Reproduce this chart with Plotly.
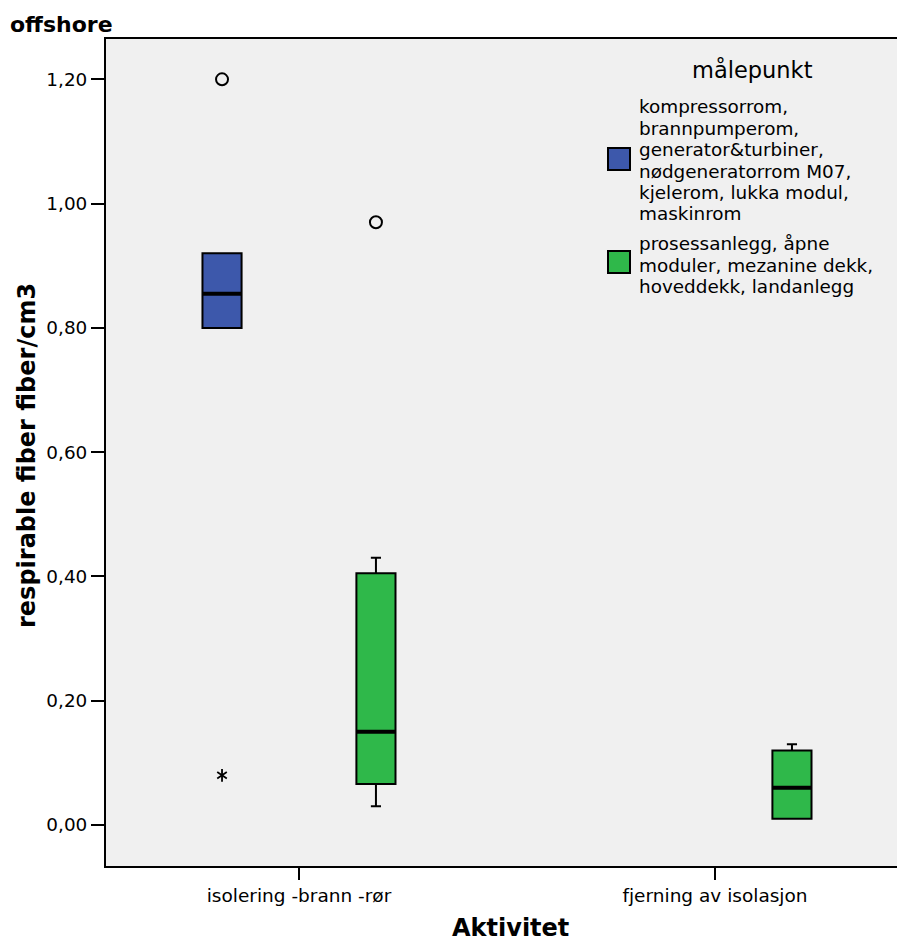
import plotly.graph_objects as go

# ---- data ----
categories = ["isolering -brann -rør", "fjerning av isolasjon"]
legend_title = "målepunkt"
group1_lines = ["kompressorrom,", "brannpumperom,", "generator&turbiner,",
                "nødgeneratorrom M07,", "kjelerom, lukka modul,", "maskinrom"]
group2_lines = ["prosessanlegg, åpne", "moduler, mezanine dekk,", "hoveddekk, landanlegg"]

# blue group (only in first category)
blue_cat = [0]
blue_q1 = [0.80]
blue_med = [0.855]
blue_q3 = [0.92]
blue_lo = [0.80]
blue_hi = [0.92]
blue_out_circle = [1.20]
blue_out_star = [0.08]

# green group (both categories)
green_cat = [0, 1]
green_q1 = [0.066, 0.01]
green_med = [0.15, 0.06]
green_q3 = [0.405, 0.12]
green_lo = [0.03, 0.01]
green_hi = [0.43, 0.13]
green_out_circle_cat = [0]
green_out_circle = [0.97]

yticks = [0.0, 0.2, 0.4, 0.6, 0.8, 1.0, 1.2]

# ---- style ----
OFF = 0.185
BW = 0.094
BLUE = "#3d58ab"
GREEN = "#2fb84a"
FONT = "DejaVu Sans, sans-serif"

fig = go.Figure()

def add_group(cats, q1, med, q3, lo, hi, color):
    xs = [c for c in cats]
    fig.add_trace(go.Box(
        x=xs, q1=q1, median=med, q3=q3, lowerfence=lo, upperfence=hi,
        width=BW, whiskerwidth=0.26, fillcolor=color,
        line=dict(color="black", width=2), boxpoints=False, showlegend=False,
        hoverinfo="skip"))
    mx, my = [], []
    for c, m in zip(xs, med):
        mx += [c - BW / 2, c + BW / 2, None]
        my += [m, m, None]
    fig.add_trace(go.Scatter(x=mx, y=my, mode="lines",
                             line=dict(color="black", width=4), showlegend=False,
                             hoverinfo="skip"))

add_group([c - OFF for c in blue_cat], blue_q1, blue_med, blue_q3, blue_lo, blue_hi, BLUE)
add_group([c + OFF for c in green_cat], green_q1, green_med, green_q3, green_lo, green_hi, GREEN)

# outliers (circles)
fig.add_trace(go.Scatter(
    x=[blue_cat[0] - OFF] * len(blue_out_circle), y=blue_out_circle, mode="markers",
    marker=dict(symbol="circle-open", size=12, color="black", line=dict(width=2)),
    showlegend=False))
fig.add_trace(go.Scatter(
    x=[c + OFF for c in green_out_circle_cat], y=green_out_circle, mode="markers",
    marker=dict(symbol="circle-open", size=12, color="black", line=dict(width=2)),
    showlegend=False))
# extreme (six-armed asterisk)
for sym in ["y-up-open", "y-down-open"]:
    fig.add_trace(go.Scatter(
        x=[blue_cat[0] - OFF] * len(blue_out_star), y=blue_out_star, mode="markers",
        marker=dict(symbol=sym, size=8, color="black", line=dict(width=1.8, color="black")),
        showlegend=False))

W, H = 897, 944
L, R, T, B = 106, 0, 39, 78
PW, PH = W - L - R, H - T - B

def px(xpage):
    return (xpage - L) / PW

def py(ypage):
    return (H - B - ypage) / PH

fig.update_layout(
    width=W, height=H,
    margin=dict(l=L, r=R, t=T, b=B),
    paper_bgcolor="white", plot_bgcolor="#f0f0f0",
    separators=",.",
    font=dict(family=FONT, color="black", size=18),
    xaxis=dict(range=[-0.4639, 1.4375], tickvals=[0, 1], ticktext=categories,
               ticks="outside", ticklen=12, tickwidth=2, tickcolor="black",
               showline=True, linecolor="black", linewidth=2, mirror=True,
               showgrid=False, zeroline=False, tickfont=dict(size=18.5)),
    yaxis=dict(range=[-0.066, 1.2649], tickvals=yticks, tickformat=".2f",
               ticks="outside", ticklen=13, tickwidth=2, tickcolor="black",
               showline=True, linecolor="black", linewidth=2,
               showgrid=False, zeroline=False, tickfont=dict(size=18.4)),
    showlegend=False,
)

annotations = [
    dict(text="<b>offshore</b>", x=px(8), y=py(24), xanchor="left", yanchor="middle",
         font=dict(size=22)),
    dict(text="<b>Aktivitet</b>", x=px(510), y=py(928), xanchor="center", yanchor="middle",
         font=dict(size=24)),
    dict(text="<b>respirable fiber fiber/cm3</b>", x=px(27), y=py(456), xanchor="center",
         yanchor="middle", textangle=-90, font=dict(size=24)),
    dict(text=legend_title, x=px(752), y=py(69), xanchor="center", yanchor="middle",
         font=dict(size=22.5)),
]
LINE_H = 21.4
for i, t in enumerate(group1_lines):
    annotations.append(dict(text=t, x=px(637), y=py(107 + i * LINE_H), xanchor="left",
                            yanchor="middle", font=dict(size=18.4)))
for i, t in enumerate(group2_lines):
    annotations.append(dict(text=t, x=px(637), y=py(244 + i * LINE_H), xanchor="left",
                            yanchor="middle", font=dict(size=18.4)))
for a in annotations:
    a.update(xref="paper", yref="paper", showarrow=False)

shapes = [
    dict(type="rect", xref="paper", yref="paper", x0=px(608), x1=px(630), y0=py(148), y1=py(170),
         fillcolor=BLUE, line=dict(color="black", width=2)),
    dict(type="rect", xref="paper", yref="paper", x0=px(608), x1=px(630), y0=py(251), y1=py(273),
         fillcolor=GREEN, line=dict(color="black", width=2)),
]
fig.update_layout(annotations=annotations, shapes=shapes)

fig.write_html(
    "out.html",
    config={"displayModeBar": False},
    post_script="document.body.style.margin='0';document.body.style.overflow='hidden';",
)
